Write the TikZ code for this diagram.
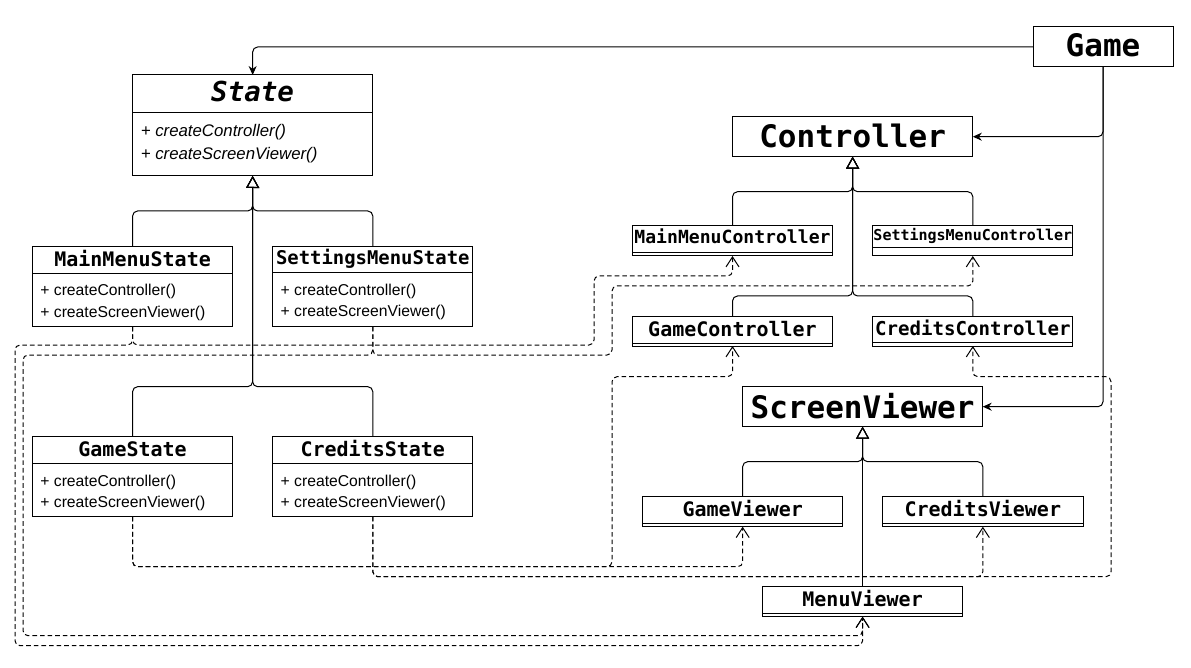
\documentclass[tikz,border=0pt]{standalone}
\usepackage{fontspec}
\setmainfont{Liberation Sans}
\newfontfamily\mono{DejaVu Sans Mono}[BoldFont={DejaVu Sans Mono Bold},ItalicFont={DejaVu Sans Mono Oblique},BoldItalicFont={DejaVu Sans Mono Bold Oblique}]
\usetikzlibrary{arrows.meta}
\tikzset{
  cls/.style={draw, line width=1pt, inner sep=0pt, outer sep=0pt, anchor=north west},
  sepline/.style={line width=1pt},
  ttl/.style={font=\mono\bfseries\fontsize{#1}{#1}\selectfont, inner sep=0pt, anchor=base},
  ttl/.default=20,
  meth/.style={font=\fontsize{15.7}{18}\selectfont, inner sep=0pt, anchor=base west},
  imeth/.style={font=\itshape\fontsize{16.8}{19}\selectfont, inner sep=0pt, anchor=base west},
  inh/.style={line width=1pt, rounded corners=5pt, -{Triangle[open,length=12pt,width=13pt]}},
  assoc/.style={line width=1pt, rounded corners=5pt, -{Stealth[length=9pt,width=8pt]}},
  dep/.style={line width=1pt, rounded corners=5pt, dash pattern=on 4.6pt off 3pt, -{Straight Barb[length=10pt,width=13pt]}},
}
\begin{document}
\begin{tikzpicture}[x=1pt,y=-1pt]
\useasboundingbox (0,0) rectangle (1191,668);

% ---------- boxes ----------
\node[cls, minimum width=140pt, minimum height=40pt] (game) at (1033,27) {};
\node[ttl=31] (gameT) at (1103,56.7) {Game};

\node[cls, minimum width=240.3pt, minimum height=101pt] (state) at (132.5,75) {};
\draw[sepline] ([yshift=-37.3pt]state.north west) -- ([yshift=-37.3pt]state.north east);
\node[font=\mono\bfseries\itshape\fontsize{27.5}{28}\selectfont, inner sep=0pt, anchor=base] (stateT) at (252.6,101.5) {State};
\node[imeth] (stateM1) at (140.6,136.5) {+ createController()};
\node[imeth] (stateM2) at (140.6,159.2) {+ createScreenViewer()};

\node[cls, minimum width=240.3pt, minimum height=40pt] (ctrl) at (732.5,116.7) {};
\node[ttl=31] (ctrlT) at (852.6,147.3) {Controller};

\node[cls, minimum width=240.2pt, minimum height=40pt] (sv) at (742.5,386.7) {};
\node[ttl=31] (svT) at (862.6,418.3) {ScreenViewer};

% states
\node[cls, minimum width=200pt, minimum height=80pt] (mms) at (32.6,246.7) {};
\draw[sepline] ([yshift=-26.6pt]mms.north west) -- ([yshift=-26.6pt]mms.north east);
\node[ttl] (mmsT) at (132.6,266.7) {MainMenuState};
\node[meth] (mmsM1) at (40.2,296) {+ createController()};
\node[meth] (mmsM2) at (40.2,317.3) {+ createScreenViewer()};

\node[cls, minimum width=200pt, minimum height=80pt] (sms) at (272.8,246.7) {};
\draw[sepline] ([yshift=-25.6pt]sms.north west) -- ([yshift=-25.6pt]sms.north east);
\node[ttl=18.9] (smsT) at (372.8,265) {SettingsMenuState};
\node[meth] (smsM1) at (280.5,295.5) {+ createController()};
\node[meth] (smsM2) at (280.5,316.6) {+ createScreenViewer()};

\node[cls, minimum width=200pt, minimum height=80pt] (gs) at (32.6,436.7) {};
\draw[sepline] ([yshift=-26.6pt]gs.north west) -- ([yshift=-26.6pt]gs.north east);
\node[ttl] (gsT) at (132.6,456.7) {GameState};
\node[meth] (gsM1) at (40.2,486.3) {+ createController()};
\node[meth] (gsM2) at (40.2,507.4) {+ createScreenViewer()};

\node[cls, minimum width=200pt, minimum height=80pt] (cs) at (272.8,436.7) {};
\draw[sepline] ([yshift=-26.6pt]cs.north west) -- ([yshift=-26.6pt]cs.north east);
\node[ttl] (csT) at (372.8,456.7) {CreditsState};
\node[meth] (csM1) at (280.5,486.3) {+ createController()};
\node[meth] (csM2) at (280.5,507.4) {+ createScreenViewer()};

% controllers
\node[cls, minimum width=200pt, minimum height=30pt] (mmc) at (632.5,226) {};
\draw[sepline] ([yshift=-26.3pt]mmc.north west) -- ([yshift=-26.3pt]mmc.north east);
\node[ttl=18.1] (mmcT) at (732.5,244) {MainMenuController};

\node[cls, minimum width=200pt, minimum height=30pt] (smc) at (872.8,226) {};
\draw[sepline] ([yshift=-21.7pt]smc.north west) -- ([yshift=-21.7pt]smc.north east);
\node[ttl=15] (smcT) at (972.8,240.7) {SettingsMenuController};

\node[cls, minimum width=200pt, minimum height=30pt] (gc) at (632.5,316) {};
\draw[sepline] ([yshift=-27.3pt]gc.north west) -- ([yshift=-27.3pt]gc.north east);
\node[ttl] (gcT) at (732.5,336) {GameController};

\node[cls, minimum width=200pt, minimum height=30pt] (cc) at (872.8,316) {};
\draw[sepline] ([yshift=-26.3pt]cc.north west) -- ([yshift=-26.3pt]cc.north east);
\node[ttl=19.1] (ccT) at (972.8,335) {CreditsController};

% viewers
\node[cls, minimum width=200.3pt, minimum height=30.7pt] (gv) at (642.5,496) {};
\draw[sepline] ([yshift=-27.3pt]gv.north west) -- ([yshift=-27.3pt]gv.north east);
\node[ttl] (gvT) at (742.7,516) {GameViewer};

\node[cls, minimum width=200.3pt, minimum height=30.7pt] (cv) at (882.7,496) {};
\draw[sepline] ([yshift=-27.3pt]cv.north west) -- ([yshift=-27.3pt]cv.north east);
\node[ttl] (cvT) at (982.8,516) {CreditsViewer};

\node[cls, minimum width=200.4pt, minimum height=30pt] (mv) at (762.4,586.7) {};
\draw[sepline] ([yshift=-26.6pt]mv.north west) -- ([yshift=-26.6pt]mv.north east);
\node[ttl] (mvT) at (862.6,606) {MenuViewer};

% ---------- routing points ----------
\coordinate (sA) at (252.6,211);
\coordinate (sB) at (252.6,386.7);
\coordinate (cA) at (852.6,191.7);
\coordinate (cB) at (852.6,296);
\coordinate (vA) at (862.6,461.7);

% ---------- inheritance ----------
\draw[inh] (mms.north) |- (sA) -- (state.south);
\draw[inh] (sms.north) |- (sA) -- (state.south);
\draw[inh] (gs.north) |- (sB) -- (state.south);
\draw[inh] (cs.north) |- (sB) -- (state.south);
\draw[inh] (mmc.north) |- (cA) -- (ctrl.south);
\draw[inh] (smc.north) |- (cA) -- (ctrl.south);
\draw[inh] (gc.north) |- (cB) -- (ctrl.south);
\draw[inh] (cc.north) |- (cB) -- (ctrl.south);
\draw[inh] (gv.north) |- (vA) -- (sv.south);
\draw[inh] (cv.north) |- (vA) -- (sv.south);
\draw[inh] (mv.north) -- (sv.south);

% ---------- associations from Game ----------
\draw[assoc] (game.west) -| (state.north);
\draw[assoc] (game.south) |- (ctrl.east);
\draw[assoc] (game.south) |- (sv.east);

% ---------- dependencies ----------
\draw[dep] (mms.south) -- (132.6,345) -- (594,345) -- (594,276) -- (732.5,276) -- (mmc.south);
\draw[dep] (mms.south) -- (132.6,345) -- (15,345) -- (15,645.7) -- (862.6,645.7) -- (mv.south);
\draw[dep] (sms.south) -- (372.8,355) -- (612,355) -- (612,286) -- (972.8,286) -- (smc.south);
\draw[dep] (sms.south) -- (372.8,355) -- (23,355) -- (23,635.7) -- (862.6,635.7) -- (mv.south);
\draw[dep] (gs.south) -- (132.6,566.7) -- (742.7,566.7) -- (gv.south);
\draw[dep] (gs.south) -- (132.6,566.7) -- (612,566.7) -- (612,376.7) -- (732.5,376.7) -- (gc.south);
\draw[dep] (cs.south) -- (372.8,576.7) -- (982.8,576.7) -- (cv.south);
\draw[dep] (cs.south) -- (372.8,576.7) -- (1111,576.7) -- (1111,376.7) -- (972.8,376.7) -- (cc.south);
\end{tikzpicture}
\end{document}
